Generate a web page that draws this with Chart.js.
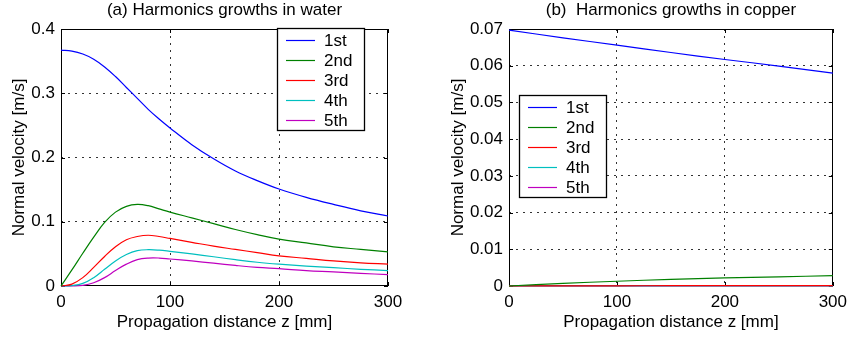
<!DOCTYPE html>
<html>
<head>
<meta charset="utf-8">
<script src="https://cdn.jsdelivr.net/npm/chart.js@4/dist/chart.umd.min.js"></script>
<style>
  html, body { margin: 0; padding: 0; background: #fff; }
  #wrap { position: relative; width: 853px; height: 340px; }
  canvas { position: absolute; top: 0; }
  #water { left: 0; }
  #copper { left: 430px; }
</style>
</head>
<body>
<div id="wrap">
  <canvas id="water" width="420" height="340"></canvas>
  <canvas id="copper" width="423" height="340"></canvas>
</div>
<script>
const seriesLabels = ['1st', '2nd', '3rd', '4th', '5th'];
const seriesColors = ['#0000ff', '#008000', '#ff0000', '#00bfbf', '#bf00bf'];

// (a) water
const waterZ = [0, 10, 20, 30, 40, 50, 60, 70, 80, 90, 100, 120, 140, 160, 180, 200, 225, 250, 275, 300];
const water1 = [0.367, 0.3655, 0.361, 0.353, 0.341, 0.326, 0.309, 0.292, 0.275, 0.260, 0.246, 0.220, 0.198, 0.179, 0.164, 0.151, 0.138, 0.127, 0.117, 0.109];
const water2 = [0, 0.025, 0.051, 0.076, 0.099, 0.115, 0.124, 0.127, 0.125, 0.120, 0.115, 0.106, 0.097, 0.088, 0.080, 0.073, 0.067, 0.061, 0.057, 0.053];
const water3 = [0, 0.003, 0.013, 0.029, 0.046, 0.061, 0.072, 0.077, 0.079, 0.077, 0.074, 0.068, 0.062, 0.057, 0.052, 0.047, 0.043, 0.039, 0.036, 0.034];
const water4 = [0, 0.0006, 0.004, 0.013, 0.026, 0.039, 0.049, 0.055, 0.0565, 0.0558, 0.054, 0.050, 0.0455, 0.041, 0.037, 0.034, 0.031, 0.0285, 0.026, 0.024];
const water5 = [0, 0.0001, 0.001, 0.005, 0.013, 0.024, 0.034, 0.041, 0.0435, 0.0435, 0.042, 0.039, 0.0355, 0.032, 0.029, 0.027, 0.024, 0.022, 0.0197, 0.0177];

// (b) copper
const copperZ = [0, 50, 100, 150, 200, 250, 300];
const copper1 = [0.0697, 0.0676, 0.0656, 0.0636, 0.0617, 0.0599, 0.0580];
const copper2 = [0, 0.0007, 0.0013, 0.0018, 0.0022, 0.0025, 0.0028];
const copper3 = [0, 0.00003, 0.00006, 0.00008, 0.0001, 0.00011, 0.00012];
const copper4 = [0, 0.000002, 0.000004, 0.000005, 0.000006, 0.000007, 0.000008];
const copper5 = [0, 0, 0, 0, 0, 0, 0];

const xTickLabels = ['0', '100', '200', '300'];
const waterTickLabels = ['0', '0.1', '0.2', '0.3', '0.4'];
const copperTickLabels = ['0', '0.01', '0.02', '0.03', '0.04', '0.05', '0.06', '0.07'];

const FONT = '"Liberation Sans", Arial, Helvetica, sans-serif';
Chart.defaults.font.family = FONT;
Chart.defaults.font.size = 17;
Chart.defaults.color = '#000';

// box + inward tick marks like the original figure (drawn under the curves)
const frameTicks = {
  id: 'frameTicks',
  beforeDatasetsDraw(chart) {
    const { ctx, chartArea: a, scales: { x, y } } = chart;
    ctx.save();
    ctx.strokeStyle = '#000';
    ctx.lineWidth = 1;
    ctx.beginPath();
    x.ticks.forEach(t => {
      const px = Math.round(x.getPixelForValue(t.value)) + 0.5;
      ctx.moveTo(px, a.bottom); ctx.lineTo(px, a.bottom - 4);
      ctx.moveTo(px, a.top); ctx.lineTo(px, a.top + 4);
    });
    y.ticks.forEach(t => {
      const py = Math.round(y.getPixelForValue(t.value)) + 0.5;
      ctx.moveTo(a.left, py); ctx.lineTo(a.left + 4, py);
      ctx.moveTo(a.right, py); ctx.lineTo(a.right - 4, py);
    });
    ctx.stroke();
    ctx.strokeRect(Math.round(a.left) + 0.5, Math.round(a.top) + 0.5,
      Math.round(a.width) - 1, Math.round(a.height) - 1);
    ctx.restore();
  }
};

const boxLegend = {
  id: 'boxLegend',
  afterDraw(chart, args, opts) {
    const { ctx } = chart;
    const rowH = 20;
    const w = 87, h = 102;
    ctx.save();
    ctx.fillStyle = '#fff';
    ctx.fillRect(opts.x, opts.y, w, h);
    ctx.strokeStyle = '#000';
    ctx.lineWidth = 1.3;
    ctx.strokeRect(opts.x + 0.5, opts.y + 0.5, w, h);
    ctx.font = '17px ' + FONT;
    ctx.textBaseline = 'middle';
    chart.data.datasets.forEach((ds, i) => {
      const cy = opts.y + 12 + i * rowH;
      ctx.strokeStyle = ds.borderColor;
      ctx.lineWidth = 1.2;
      ctx.beginPath();
      ctx.moveTo(opts.x + 9, cy + 0.5);
      ctx.lineTo(opts.x + 38, cy + 0.5);
      ctx.stroke();
      ctx.fillStyle = '#000';
      ctx.fillText(ds.label, opts.x + 47, cy + 1);
    });
    ctx.restore();
  }
};

function makeDatasets(zs, lists) {
  return lists.map((vals, i) => ({
    label: seriesLabels[i],
    data: zs.map((z, k) => ({ x: z, y: vals[k] })),
    borderColor: seriesColors[i],
    backgroundColor: seriesColors[i],
    borderWidth: 1.2,
    pointRadius: 0,
    tension: 0.4,
    clip: 2,
    fill: false
  }));
}

function gridColor(c) {
  const n = c.scale.ticks.length;
  return (c.index === 0 || c.index === n - 1) ? 'rgba(0,0,0,0)' : 'rgba(0,0,0,0.8)';
}

function makeChart(id, cfg) {
  return new Chart(document.getElementById(id), {
    type: 'line',
    data: { datasets: makeDatasets(cfg.z, cfg.series) },
    plugins: [frameTicks, boxLegend],
    options: {
      responsive: false,
      animation: false,
      devicePixelRatio: 1,
      layout: { padding: { left: 0, right: cfg.padRight, top: 0, bottom: 0 } },
      plugins: {
        legend: { display: false },
        tooltip: { enabled: false },
        title: {
          display: true,
          text: cfg.title,
          fullSize: false,
          font: { size: 17, weight: 'normal' },
          color: '#000',
          padding: { top: 0, bottom: 8.6 }
        },
        boxLegend: cfg.legend
      },
      scales: {
        x: {
          type: 'linear',
          min: 0, max: 300,
          afterFit: s => { s.height = 54; },
          ticks: {
            stepSize: 100,
            padding: 6,
            maxRotation: 0,
            callback: (v, i) => xTickLabels[i]
          },
          grid: { color: gridColor, drawTicks: false, lineWidth: 1 },
          border: { display: false, dash: [2, 5] },
          title: {
            display: true,
            text: 'Propagation distance z [mm]',
            font: { size: 17 },
            padding: { top: 0, bottom: 7.8 }
          }
        },
        y: {
          type: 'linear',
          min: 0, max: cfg.yMax,
          afterFit: s => { s.width = cfg.yWidth; },
          ticks: {
            stepSize: cfg.yStep,
            padding: 6,
            callback: (v, i) => cfg.yLabels[i]
          },
          grid: { color: gridColor, drawTicks: false, lineWidth: 1 },
          border: { display: false, dash: [2, 5] },
          title: {
            display: true,
            text: 'Normal velocity [m/s]',
            font: { size: 17 },
            padding: { top: cfg.yTitlePad, bottom: 0 }
          }
        }
      }
    }
  });
}

makeChart('water', {
  title: '(a) Harmonics growths in water',
  z: waterZ,
  series: [water1, water2, water3, water4, water5],
  yMax: 0.4, yStep: 0.1, yLabels: waterTickLabels,
  yWidth: 61, yTitlePad: 9, padRight: 32,
  legend: { x: 277, y: 28 }
});

makeChart('copper', {
  title: '(b)  Harmonics growths in copper',
  z: copperZ,
  series: [copper1, copper2, copper3, copper4, copper5],
  yMax: 0.07, yStep: 0.01, yLabels: copperTickLabels,
  yWidth: 79, yTitlePad: 18, padRight: 17,
  legend: { x: 89, y: 95 }
});
</script>
</body>
</html>
